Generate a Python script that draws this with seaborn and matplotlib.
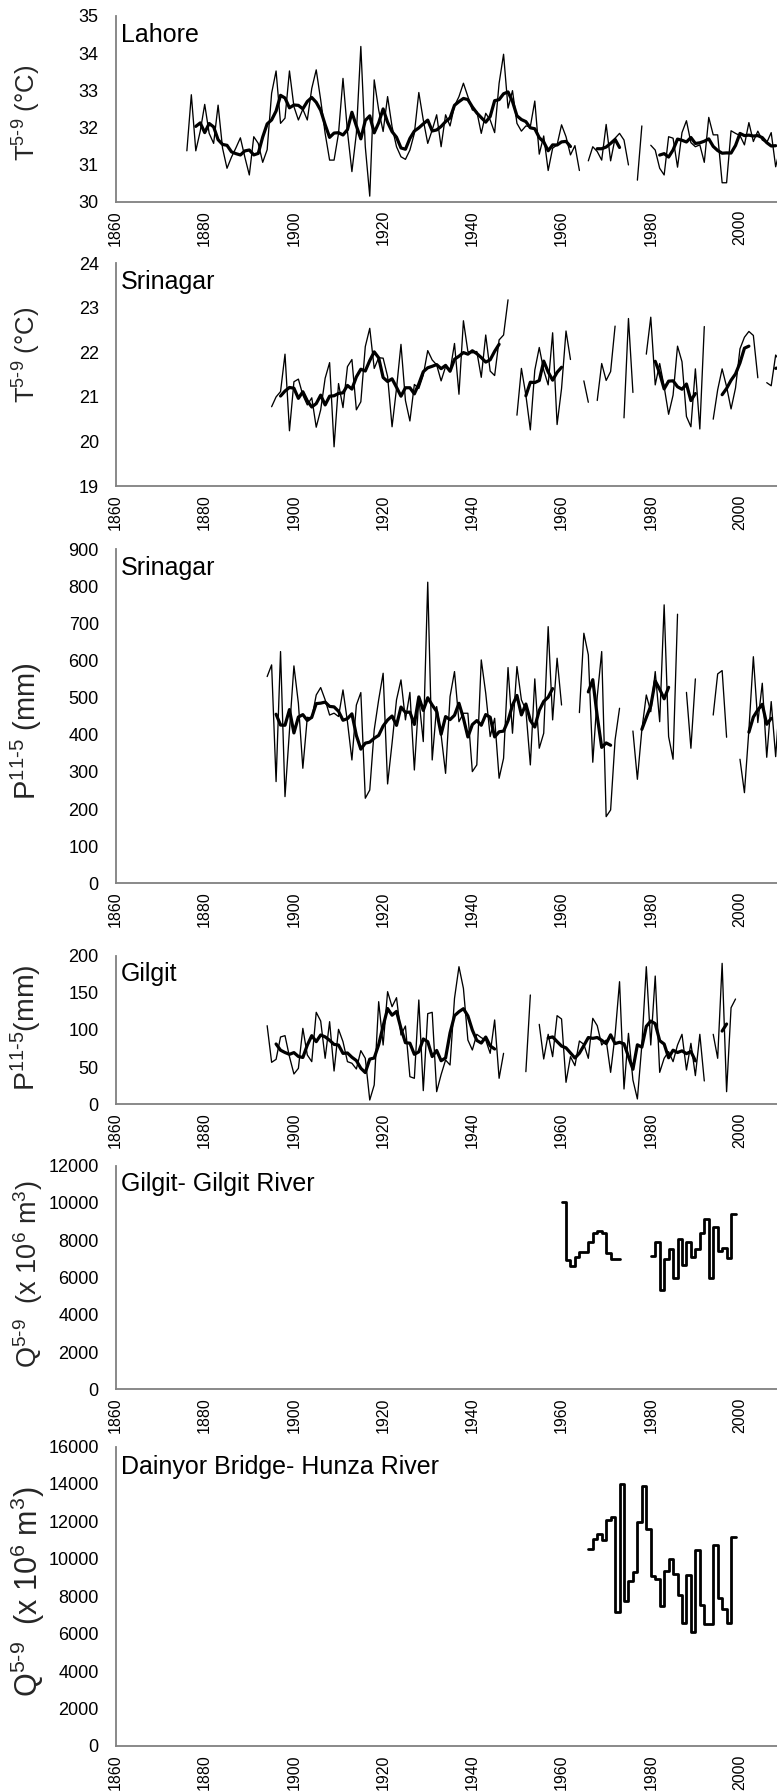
import numpy as np
import pandas as pd
import matplotlib
matplotlib.use("Agg")
import matplotlib.pyplot as plt
import seaborn as sns

nan = np.nan

# ---------------- data ----------------
lahore_years = np.arange(1876, 2011)
lahore_t = [
    31.37, 32.88, 31.37, 31.90, 32.62, 31.84, 31.57, 32.60, 31.44, 30.90,   # 1876-1885
    31.20, 31.45, 31.72, 31.20, 30.72, 31.75, 31.57, 31.06, 31.40, 32.92,   # 1886-1895
    33.52, 32.11, 32.25, 33.52, 32.56, 32.20, 32.49, 32.20, 33.05, 33.55,   # 1896-1905
    32.74, 31.84, 31.12, 31.12, 31.84, 33.32, 31.89, 30.81, 31.84, 34.18,   # 1906-1915
    31.48, 30.15, 33.28, 32.47, 31.89, 32.83, 32.02, 31.48, 31.21, 31.14,   # 1916-1925
    31.39, 31.84, 32.94, 32.20, 31.57, 31.93, 32.34, 31.48, 32.34, 32.04,   # 1926-1935
    32.58, 32.83, 33.19, 32.83, 32.47, 32.43, 31.84, 32.38, 32.20, 31.86,   # 1936-1945
    33.19, 33.97, 32.52, 32.99, 32.11, 31.90, 32.04, 32.02, 32.71, 31.28,   # 1946-1955
    31.77, 30.84, 31.44, 31.53, 32.07, 31.75, 31.26, 31.51, 30.84, nan,     # 1956-1965
    31.10, 31.48, 31.35, 31.12, 32.08, 31.10, 31.71, 31.84, 31.66, 30.99,   # 1966-1975
    nan, 30.58, 32.04, nan, 31.52, 31.39, 30.90, 30.72, 31.75, 31.71,       # 1976-1985
    30.93, 31.86, 32.18, 31.59, 31.48, 31.53, 31.06, 32.27, 31.80, 31.80,   # 1986-1995
    30.51, 30.51, 31.91, 31.84, 31.78, 31.53, 32.13, 31.62, 31.90, 31.66,   # 1996-2005
    31.59, 31.86, 30.94, 31.45, 31.70,                                      # 2006-2010
]

srinagar_t_years = np.arange(1895, 2012)
srinagar_t = [
    20.78, 21.00, 21.12, 21.96, 20.24, 21.34, 21.40, 21.04, 20.82, 20.98,   # 1895-1904
    20.32, 20.71, 21.42, 21.77, 19.88, 21.30, 20.76, 21.68, 21.84, 20.71,   # 1905-1914
    20.89, 22.13, 22.54, 21.64, 21.88, 21.87, 21.46, 20.33, 21.19, 22.18,   # 1915-1924
    20.92, 20.46, 21.28, 21.19, 21.49, 22.04, 21.83, 21.72, 21.36, 21.68,   # 1925-1934
    21.58, 22.20, 21.06, 22.71, 22.02, 21.99, 22.02, 21.44, 22.39, 21.58,   # 1935-1944
    21.48, 22.28, 22.39, 23.18, nan, 20.59, 21.64, 21.04, 20.26, 21.60,     # 1945-1954
    22.11, 21.60, 21.27, 22.44, 20.38, 21.19, 22.48, 21.84, nan, nan,       # 1955-1964
    21.36, 20.88, nan, 20.92, 21.75, 21.37, 21.57, 22.59, nan, 20.53,       # 1965-1974
    22.76, 21.10, nan, nan, 21.96, 22.79, 21.27, 21.75, 21.23, 20.61,       # 1975-1984
    21.04, 22.14, 21.79, 20.56, 20.33, 21.63, 20.28, 22.58, nan, 20.50,     # 1985-1994
    21.16, 21.63, 21.23, 20.73, 21.20, 22.08, 22.34, 22.47, 22.38, 21.43,   # 1995-2004
    nan, 21.32, 21.25, 21.94, 21.80, 21.90, 21.40,                          # 2005-2011
]

srinagar_p_years = np.arange(1894, 2010)
srinagar_p = [
    556.6, 588.0, 273.8, 623.9, 233.4, 411.0, 585.3, 484.7, 309.7, 447.0,   # 1894-1903
    444.0, 507.0, 527.0, 494.0, 453.0, 458.0, 449.0, 520.6, 435.0, 332.0,   # 1904-1913
    480.0, 513.5, 229.0, 251.0, 413.0, 494.0, 565.5, 267.5, 377.0, 494.0,   # 1914-1923
    547.6, 440.0, 514.0, 305.0, 498.0, 381.5, 810.6, 332.0, 475.8, 399.5,   # 1924-1933
    296.0, 502.7, 570.0, 435.0, 457.8, 457.8, 300.7, 318.7, 601.4, 511.7,   # 1934-1943
    395.0, 444.3, 282.8, 336.6, 580.8, 404.0, 583.5, 493.7, 466.8, 318.7,   # 1944-1953
    550.3, 363.6, 404.0, 691.0, 439.9, 606.0, 480.0, nan, nan, nan,         # 1954-1963
    459.6, 673.2, 615.0, 325.9, 502.7, 623.9, 179.5, 197.5, 386.0, 471.3,   # 1964-1973
    nan, nan, 410.0, 280.0, 413.0, 507.0, 462.0, 570.0, 435.0, 749.6,       # 1974-1983
    395.0, 334.0, 724.4, nan, 514.0, 363.6, 550.3, nan, nan, nan,           # 1984-1993
    453.0, 563.7, 572.7, 393.2, nan, nan, 334.0, 244.0, 413.0, 610.0,       # 1994-2003
    432.7, 538.6, 339.3, 489.2, 341.0, 512.0,                               # 2004-2009
]

gilgit_p_years = np.arange(1894, 2000)
gilgit_p = [
    105.8, 56.5, 60.5, 90.6, 92.4, 64.1, 40.8, 48.4, 102.2, 66.4,           # 1894-1903
    57.4, 123.8, 112.1, 61.9, 111.2, 44.8, 100.9, 84.3, 57.4, 55.2,         # 1904-1913
    47.5, 72.2, 61.9, 5.8, 26.0, 138.1, 79.8, 151.6, 131.4, 143.5,          # 1914-1923
    93.3, 105.4, 37.2, 35.0, 140.4, 18.4, 122.0, 123.8, 17.0, 40.0,         # 1924-1933
    59.6, 52.9, 142.6, 185.2, 156.0, 86.5, 73.1, 94.2, 89.7, 86.5,          # 1934-1943
    68.6, 113.5, 35.0, 68.6, nan, nan, nan, nan, 43.9, 147.1,               # 1944-1953
    nan, 107.6, 61.0, 94.2, 64.1, 119.3, 114.8, 29.6, 64.1, 52.0,           # 1954-1963
    85.2, 80.7, 61.9, 115.7, 105.8, 79.8, 86.5, 43.0, 93.3, 165.0,          # 1964-1973
    20.6, 95.5, 32.7, 7.2, 79.8, 185.2, 79.8, 172.6, 43.0, 61.9,            # 1974-1983
    70.9, 57.4, 79.8, 94.2, 46.2, 82.1, 38.6, 94.2, 31.4, nan,              # 1984-1993
    94.2, 61.9, 189.7, 17.0, 130.0, 141.7,                                  # 1994-1999
]

gilgit_q_years = list(range(1960, 1974)) + list(range(1980, 2000))
gilgit_q = [
    10024, 6927, 6605, 7071, 7375, 7375, 7894, 8359, 8503, 8395,
    7285, 6981, 6981, 6981,
    7160, 7894, 5352, 6981, 7518, 5997, 8055, 6659, 7912, 7071,
    7500, 8359, 9129, 5997, 8717, 7429, 7590, 7053, 9380, 9380,
]

hunza_q_years = list(range(1966, 2000))
hunza_q = [
    10520, 11055, 11340, 11002, 12052, 12230, 7155, 14011, 7761, 8829,
    9310, 11945, 13886, 11570, 9074, 8931, 7471, 9345, 9986, 9167,
    8081, 6567, 9132, 6068, 10467, 7524, 6491, 6491, 10751, 7898,
    7311, 6545, 11144, 11144,
]

x_ticks = list(range(1860, 2001, 20))

# ---------------- style ----------------
sns.set_theme(style="white")
plt.rcParams["font.family"] = ["Liberation Sans", "DejaVu Sans"]
plt.rcParams["mathtext.fontset"] = "custom"
plt.rcParams["mathtext.rm"] = "Liberation Sans"
plt.rcParams["mathtext.it"] = "Liberation Sans:italic"
plt.rcParams["mathtext.bf"] = "Liberation Sans:bold"

W, H = 777, 1791
fig = plt.figure(figsize=(W / 100, H / 100), dpi=100)
AXIS_GREY = "#808080"
LEFT = 115.5


def make_axes(top_px, bottom_px):
    return fig.add_axes([LEFT / W, 1 - bottom_px / H, 1 - LEFT / W,
                         (bottom_px - top_px) / H])


def with_segments(years, values):
    df = pd.DataFrame({"year": years, "value": values}).dropna()
    df["seg"] = (df["year"].diff() != 1).cumsum()
    return df


def annual_with_mean(ax, years, values):
    df = with_segments(years, values)
    # centred 5-year running mean inside each unbroken run of years
    df["smooth"] = df.groupby("seg")["value"].transform(
        lambda s: s.rolling(5, center=True).mean())
    sns.lineplot(data=df, x="year", y="value", units="seg", estimator=None,
                 color="black", lw=0.95, ax=ax, legend=False)
    sm = df.dropna(subset=["smooth"])
    sns.lineplot(data=sm, x="year", y="smooth", units="seg", estimator=None,
                 color="black", lw=2.3, ax=ax, legend=False)


def stepped(ax, years, values):
    df = with_segments(years, values)
    sns.lineplot(data=df, x="year", y="value", units="seg", estimator=None,
                 color="black", lw=2.0, drawstyle="steps-post", ax=ax,
                 legend=False)


def style_axes(ax, ylim, ystep, title, title_frac, ylabel, ylabel_size,
               ylabel_pos):
    ax.set_xlim(1860, 2008.3)
    ax.set_ylim(*ylim)
    ax.set_xticks(x_ticks)
    ax.set_yticks(np.arange(ylim[0], ylim[1] + ystep / 2, ystep))
    ax.set_xticklabels([str(t) for t in x_ticks], rotation=90, fontsize=11.5)
    for lab in ax.get_yticklabels():
        lab.set_fontsize(13)
    for side in ("top", "right"):
        ax.spines[side].set_visible(False)
    for side in ("left", "bottom"):
        ax.spines[side].set_color(AXIS_GREY)
        ax.spines[side].set_linewidth(1.3)
    ax.tick_params(axis="both", direction="out", length=4, width=1,
                   color=AXIS_GREY, labelcolor="black")
    ax.tick_params(axis="y", pad=8)
    ax.tick_params(axis="x", pad=2)
    ax.set_xlabel("")
    ax.set_ylabel(ylabel, fontsize=ylabel_size)
    ax.yaxis.set_label_coords(*ylabel_pos)
    ax.text(0.008, title_frac, title, transform=ax.transAxes, fontsize=18,
            ha="left", va="baseline", color="black")
    ax.patch.set_alpha(0)


T_LABEL = r"T$^{5\text{-}9}$ (°C)"
P_LABEL = r"P$^{11\text{-}5}$ (mm)"
Q_LABEL = r"Q$^{5\text{-}9}$  (x 10$^{6}$ m$^{3}$)"

ax1 = make_axes(16, 201.7)
annual_with_mean(ax1, lahore_years, lahore_t)
style_axes(ax1, (30, 35), 1, "Lahore", 0.862, T_LABEL, 18.5, (-0.109, 0.478))

ax2 = make_axes(263.3, 486)
annual_with_mean(ax2, srinagar_t_years, srinagar_t)
style_axes(ax2, (19, 24), 1, "Srinagar", 0.883, T_LABEL, 18.5, (-0.109, 0.588))

ax3 = make_axes(549, 883.3)
annual_with_mean(ax3, srinagar_p_years, srinagar_p)
style_axes(ax3, (0, 900), 100, "Srinagar", 0.922, P_LABEL, 21,
           (-0.108, 0.456))

ax4 = make_axes(955.7, 1104.3)
annual_with_mean(ax4, gilgit_p_years, gilgit_p)
style_axes(ax4, (0, 200), 50, "Gilgit", 0.832,
           r"P$^{11\text{-}5}$(mm)", 20.5, (-0.108, 0.513))

ax5 = make_axes(1165.5, 1389.4)
stepped(ax5, gilgit_q_years, gilgit_q)
style_axes(ax5, (0, 12000), 2000, "Gilgit- Gilgit River", 0.888,
           Q_LABEL, 19.5, (-0.106, 0.515))

ax6 = make_axes(1446.5, 1745.9)
stepped(ax6, hunza_q_years, hunza_q)
style_axes(ax6, (0, 16000), 2000, "Dainyor Bridge- Hunza River", 0.908,
           Q_LABEL, 22, (-0.104, 0.517))

fig.savefig("out.png", dpi=100, facecolor="white")
